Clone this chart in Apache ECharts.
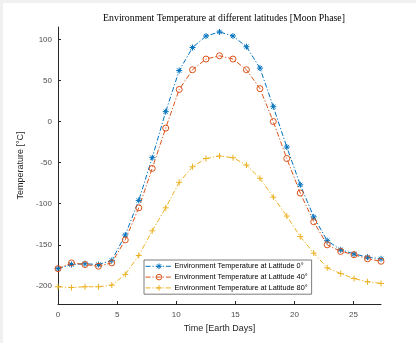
<!DOCTYPE html>
<html>
<head>
<meta charset="utf-8">
<script src="https://cdn.jsdelivr.net/npm/echarts@6/dist/echarts.min.js"></script>
<style>
  html, body { margin: 0; padding: 0; background: #f0f0f0; }
  #chart { position: absolute; left: 3px; top: 3px; width: 413px; height: 340px; background: #fff; }
</style>
</head>
<body>
<div id="chart"></div>
<script>
// time in earth days (one lunar cycle, 25 samples)
const days = [0, 1.14, 2.28, 3.42, 4.55, 5.69, 6.83, 7.97, 9.11, 10.25, 11.38, 12.52,
  13.66, 14.80, 15.94, 17.08, 18.21, 19.35, 20.49, 21.63, 22.77, 23.91, 25.04, 26.18, 27.32];

const lat0 = [-179, -174, -173, -174, -169, -138, -96, -44, 12, 62, 90, 104,
  109, 104, 91, 65, 18, -31, -77, -116, -145, -156, -161, -165, -167];
const lat40 = [-179, -172, -174, -176, -172, -144, -105, -57, -8, 39, 63, 76,
  80, 76, 63, 40, 0, -45, -87, -122, -150, -158, -162, -167, -170];
const lat80 = [-201, -202, -201, -201, -199, -186, -163, -133, -105, -74, -55, -45,
  -42, -44, -53, -69, -92, -115, -140, -160, -178, -185, -191, -195, -197];

const xTicks = [0, 5, 10, 15, 20, 25];
const yTicks = [-200, -150, -100, -50, 0, 50, 100];

const names = [
  'Environment Temperature at Latitude 0°',
  'Environment Temperature at Latitude 40°',
  'Environment Temperature at Latitude 80°'
];

// matlab default line colours
const colors = ['#0072BD', '#D95319', '#EDB120'];
const dashDot = [5, 2, 1.2, 2];
const axisColor = '#262626';
const tickColor = '#4d4d4d';

const starPath = 'path://M5 0L5 10M0 5L10 5M1.5 1.5L8.5 8.5M8.5 1.5L1.5 8.5';
const plusPath = 'path://M5 0L5 10M0 5L10 5';
const symbols = [starPath, 'circle', plusPath];
const fills = ['none', 'rgba(255,255,255,0)', 'none'];

function pairs(ys) {
  return days.map((d, i) => [d, ys[i]]);
}

function lineSeries(idx, ys) {
  return {
    name: names[idx],
    type: 'line',
    data: pairs(ys),
    symbol: symbols[idx],
    symbolSize: 6,
    showSymbol: true,
    animation: false,
    lineStyle: {color: colors[idx], width: 1, type: dashDot},
    itemStyle: {color: fills[idx], borderColor: colors[idx], borderWidth: 1}
  };
}

const chart = echarts.init(document.getElementById('chart'), null, {renderer: 'canvas'});

chart.setOption({
  backgroundColor: '#fff',
  animation: false,
  color: colors,
  title: {
    text: 'Environment Temperature at different latitudes [Moon Phase]',
    left: 216, top: 5, textAlign: 'center',
    textStyle: {fontFamily: 'Liberation Serif', fontWeight: 'normal', fontSize: 9.8, color: '#000'}
  },
  grid: {left: 55, right: 35, top: 24, bottom: 39},
  legend: {
    orient: 'vertical',
    left: 141, top: 257,
    itemWidth: 27, itemHeight: 7, itemGap: 2,
    padding: [1, 4, 1, 1],
    backgroundColor: '#fff',
    borderColor: '#5a5a5a', borderWidth: 0.8, borderRadius: 0,
    textStyle: {fontFamily: 'Liberation Sans', fontSize: 7.3, color: '#000', padding: [0, 0, 0, -3]},
    lineStyle: {width: 1, type: dashDot},
    data: names.map((n, i) => ({
      name: n,
      itemStyle: {color: fills[i], borderColor: colors[i], borderWidth: 1}
    }))
  },
  xAxis: {
    type: 'value', min: 0, max: 27.32,
    name: 'Time [Earth Days]', nameLocation: 'middle', nameGap: 18,
    nameTextStyle: {fontFamily: 'Liberation Sans', fontSize: 9, color: axisColor},
    axisLine: {show: true, onZero: false, lineStyle: {color: axisColor, width: 1}},
    axisTick: {show: true, inside: true, length: 3, customValues: xTicks, lineStyle: {color: axisColor}},
    axisLabel: {customValues: xTicks, fontFamily: 'Liberation Sans', fontSize: 8, color: tickColor, margin: 7},
    splitLine: {show: false}
  },
  yAxis: {
    type: 'value', min: -222, max: 115,
    name: 'Temperature [°C]', nameLocation: 'middle', nameGap: 21,
    nameTextStyle: {fontFamily: 'Liberation Sans', fontSize: 9, color: axisColor},
    axisLine: {show: true, onZero: false, lineStyle: {color: axisColor, width: 1}},
    axisTick: {show: true, inside: true, length: 3, customValues: yTicks, lineStyle: {color: axisColor}},
    axisLabel: {customValues: yTicks, fontFamily: 'Liberation Sans', fontSize: 8, color: tickColor, margin: 6},
    splitLine: {show: false}
  },
  series: [
    lineSeries(0, lat0),
    lineSeries(1, lat40),
    lineSeries(2, lat80)
  ]
});
</script>
</body>
</html>
